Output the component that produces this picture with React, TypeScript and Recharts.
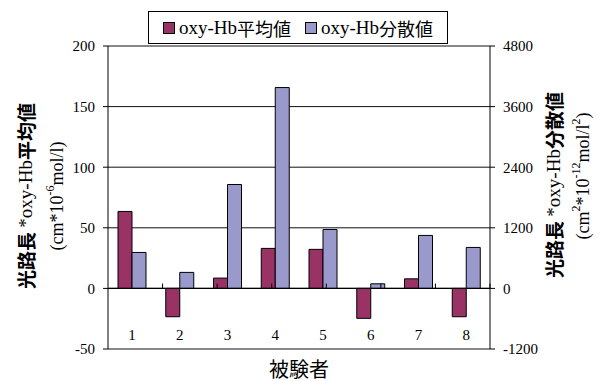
import { Bar, BarChart, CartesianGrid, Legend, ReferenceLine, XAxis, YAxis } from 'recharts'

const subjects = ['1', '2', '3', '4', '5', '6', '7', '8']
const meanValues = [63.5, -23.4, 8.5, 33, 32.2, -24.7, 7.9, -23.4]
const varianceValues = [712, 317, 2057, 3977, 1167, 91, 1049, 811]
const leftTicks = [-50, 0, 50, 100, 150, 200]
const rightTicks = [-1200, 0, 1200, 2400, 3600, 4800]
const boundaries = [1, 2, 3, 4, 5, 6, 7]

const MEAN_COLOR = '#993366'
const VAR_COLOR = '#9999cc'
const SERIF = '"Liberation Serif", "Times New Roman", serif'
const CJK = '"Noto Sans CJK JP", sans-serif'

const data = subjects.map((s, i) => ({ name: s, mean: meanValues[i], variance: varianceValues[i] }))

const legendItems = [
  { label: '平均値', color: MEAN_COLOR },
  { label: '分散値', color: VAR_COLOR },
]

function LegendBox() {
  return (
    <div style={{
      width: 300, height: 33, border: '1px solid #000', background: '#fff', boxSizing: 'border-box',
      display: 'flex', alignItems: 'center', justifyContent: 'center', gap: 14,
    }}>
      {legendItems.map((it) => (
        <div key={it.label} style={{ display: 'flex', alignItems: 'center' }}>
          <span style={{ width: 10, height: 10, background: it.color, border: '1px solid #000', marginRight: 4, display: 'inline-block' }} />
          <span style={{ fontFamily: SERIF, fontSize: 19 }}>oxy-Hb</span>
          <span style={{ fontFamily: CJK, fontSize: 18 }}>{it.label}</span>
        </div>
      ))}
    </div>
  )
}

function LeftTitle() {
  const cx1 = 25, cx2 = 57, cy = 196
  return (
    <g>
      <text x={cx1} y={cy} transform={`rotate(-90, ${cx1}, ${cy})`} textAnchor="middle" dominantBaseline="central" fontSize={19} fill="#000">
        <tspan fontFamily={CJK} fontWeight="bold">光路長 </tspan>
        <tspan fontFamily={SERIF}>*oxy-Hb</tspan>
        <tspan fontFamily={CJK} fontWeight="bold">平均値</tspan>
      </text>
      <text x={cx2} y={cy} transform={`rotate(-90, ${cx2}, ${cy})`} textAnchor="middle" dominantBaseline="central" fontSize={18} fontFamily={SERIF} fill="#000">
        <tspan>(cm*10</tspan>
        <tspan fontSize={12} dy={-7}>-6</tspan>
        <tspan dy={7}>mol/l)</tspan>
      </text>
    </g>
  )
}

function RightTitle() {
  const cx1 = 553, cx2 = 583, cy1 = 185, cy2 = 176
  return (
    <g>
      <text x={cx1} y={cy1} transform={`rotate(-90, ${cx1}, ${cy1})`} textAnchor="middle" dominantBaseline="central" fontSize={19} fill="#000">
        <tspan fontFamily={CJK} fontWeight="bold">光路長 </tspan>
        <tspan fontFamily={SERIF}>*oxy-Hb</tspan>
        <tspan fontFamily={CJK} fontWeight="bold">分散値</tspan>
      </text>
      <text x={cx2} y={cy2} transform={`rotate(-90, ${cx2}, ${cy2})`} textAnchor="middle" dominantBaseline="central" fontSize={18} fontFamily={SERIF} fill="#000">
        <tspan>(cm</tspan>
        <tspan fontSize={12} dy={-7}>2</tspan>
        <tspan dy={7}>*10</tspan>
        <tspan fontSize={12} dy={-7}>-12</tspan>
        <tspan dy={7}>mol/l</tspan>
        <tspan fontSize={12} dy={-7}>2</tspan>
        <tspan dy={7}>)</tspan>
      </text>
    </g>
  )
}

function XTick(props: any) {
  const { x, y, payload } = props
  return (
    <text x={x} y={y - 22} textAnchor="middle" dominantBaseline="central" fontFamily={SERIF} fontSize={15} fill="#000">
      {payload.value}
    </text>
  )
}

export default function App() {
  return (
    <div style={{ position: 'absolute', left: 0, top: 0, width: 603, height: 381, background: '#fff' }}>
      <BarChart width={603} height={381} data={data} margin={{ top: 46, right: 53, left: 48, bottom: 2 }} barGap={0} barSize={14}>
        <CartesianGrid vertical={false} stroke="#111" xAxisId="cat" yAxisId="left" />
        <XAxis xAxisId="cat" dataKey="name" axisLine={false} tickLine={false} height={30} tick={<XTick />} interval={0}
          label={{ content: () => (
            <text x={299} y={368} textAnchor="middle" dominantBaseline="central" fontFamily={CJK} fontSize={20} fill="#000">被験者</text>
          ) }} />
        <XAxis xAxisId="num" type="number" domain={[0, 8]} hide />
        <YAxis yAxisId="left" orientation="left" domain={[-50, 200]} ticks={leftTicks} width={60}
          axisLine={{ stroke: '#000' }} tickLine={{ stroke: '#000' }} tickSize={5} tickMargin={8}
          tick={{ fontFamily: SERIF, fontSize: 15, fill: '#000' }}
          label={{ content: () => <LeftTitle /> }} />
        <YAxis yAxisId="right" orientation="right" domain={[-1200, 4800]} ticks={rightTicks} width={60}
          axisLine={{ stroke: '#000' }} tickLine={{ stroke: '#000' }} tickSize={5} tickMargin={8}
          tick={{ fontFamily: SERIF, fontSize: 15, fill: '#000', textAnchor: 'start' }}
          label={{ content: () => <RightTitle /> }} />
        <Legend verticalAlign="middle" align="center" layout="horizontal" content={<LegendBox />}
          wrapperStyle={{ top: 11, left: 148, width: 300, height: 33 }} />
        <Bar xAxisId="cat" yAxisId="left" dataKey="mean" name="oxy-Hb平均値" fill={MEAN_COLOR} stroke="#000" strokeWidth={1} isAnimationActive={false} />
        <Bar xAxisId="cat" yAxisId="right" dataKey="variance" name="oxy-Hb分散値" fill={VAR_COLOR} stroke="#000" strokeWidth={1} isAnimationActive={false} />
        <ReferenceLine xAxisId="cat" yAxisId="left" y={0} stroke="#000" strokeWidth={1.2} />
        {boundaries.map((b) => (
          <ReferenceLine key={b} xAxisId="num" yAxisId="left" segment={[{ x: b, y: 0 }, { x: b, y: 4 }]} stroke="#000" />
        ))}
      </BarChart>
    </div>
  )
}
